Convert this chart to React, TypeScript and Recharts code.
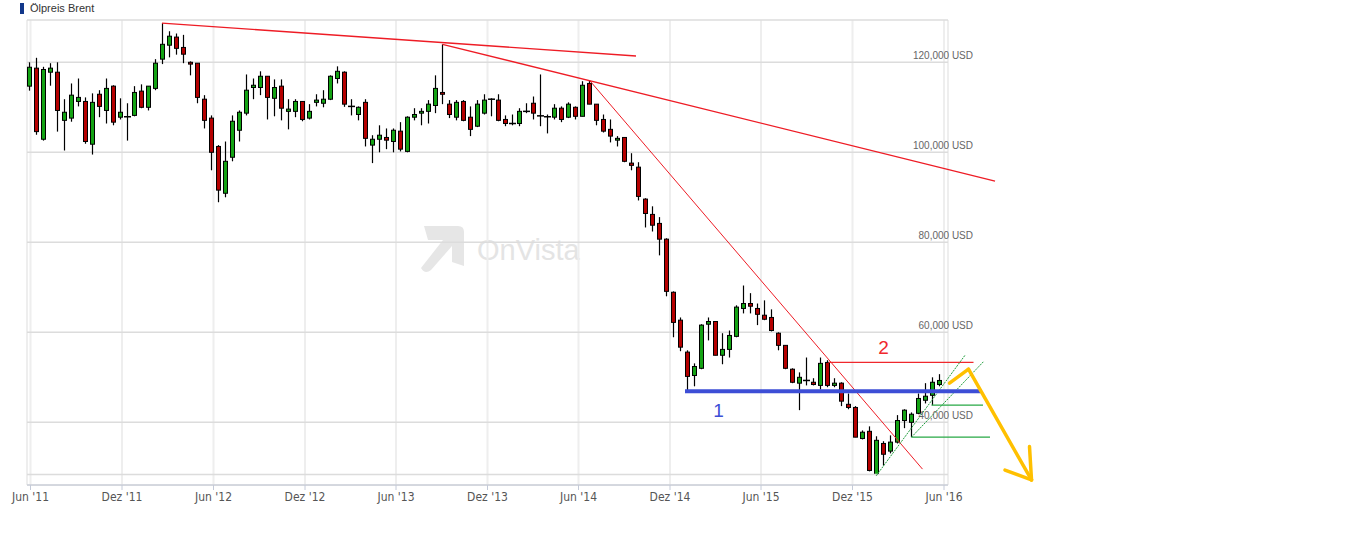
import React from 'react';
import {
  ComposedChart, Bar, XAxis, YAxis, CartesianGrid, ReferenceLine, ReferenceDot,
} from 'recharts';

// Brent, 2-week candles, values in thousand USD (chart shows them as "x,000 USD")
const OPEN = [
  114.7, 118.7, 102.9, 117.8, 117.8, 107.1, 107.6, 111.3, 111.3, 101.8,
  112.9, 109.3, 114.7, 107.8, 107.9, 108.2, 113.6, 110.0, 114.2, 120.7,
  123.8, 125.6, 123.3, 120.0, 119.8, 111.8, 107.6, 101.3, 90.9, 98.9,
  104.9, 108.7, 114.4, 114.4, 116.9, 112.0, 114.7, 109.1, 109.1, 111.3,
  107.6, 111.1, 110.9, 111.8, 116.4, 117.8, 110.2, 108.4, 111.1, 101.6,
  102.9, 103.3, 102.4, 104.7, 100.2, 107.8, 108.7, 109.1, 110.4, 113.3,
  110.7, 107.8, 111.3, 107.8, 105.8, 108.7, 111.8, 111.6, 107.3, 106.4,
  106.4, 109.1, 110.9, 108.1, 107.9, 107.8, 109.8, 107.8, 110.0, 108.0,
  115.3, 110.7, 107.3, 105.1, 102.7, 103.3, 97.6, 96.7, 89.6, 86.2,
  84.2, 80.7, 68.9, 62.7, 55.6, 50.4, 52.0, 61.8, 62.4, 54.9,
  56.2, 59.1, 65.3, 66.4, 65.3, 63.8, 63.3, 59.8, 57.1, 51.8,
  48.7, 49.3, 48.9, 48.2, 53.3, 48.2, 48.7, 44.0, 43.3, 36.4,
  38.0, 28.4, 35.3, 33.6, 35.6, 40.4, 40.0, 42.0, 44.9, 46.0, 48.4,
];
const HIGH = [
  120.0, 121.0, 119.0, 119.8, 120.0, 111.8, 115.3, 116.4, 112.2, 113.1,
  113.8, 116.4, 114.9, 112.0, 110.9, 114.7, 115.1, 114.7, 120.7, 128.7,
  126.9, 126.4, 126.1, 120.2, 119.8, 112.7, 108.2, 101.6, 102.4, 108.2,
  109.3, 117.3, 116.4, 118.0, 116.9, 116.2, 116.2, 111.8, 111.8, 111.3,
  110.7, 112.9, 113.8, 117.1, 119.1, 118.0, 111.8, 110.2, 111.8, 103.8,
  106.0, 105.3, 105.3, 106.7, 108.0, 109.8, 109.8, 111.6, 117.1, 124.0,
  111.6, 111.6, 111.6, 110.2, 111.6, 112.9, 112.0, 112.9, 108.2, 108.4,
  109.8, 110.9, 112.4, 117.3, 108.4, 110.7, 110.2, 111.1, 110.2, 115.8,
  116.0, 110.7, 108.4, 107.3, 103.6, 103.3, 99.8, 97.8, 89.8, 88.0,
  85.6, 80.9, 69.1, 63.3, 56.0, 53.1, 61.8, 63.3, 62.4, 59.8,
  60.4, 66.0, 70.4, 68.7, 66.4, 67.1, 65.1, 60.0, 57.1, 52.0,
  51.1, 54.4, 49.8, 54.4, 53.8, 49.8, 48.9, 46.4, 43.6, 38.2,
  39.1, 36.9, 35.8, 37.1, 41.6, 42.9, 42.2, 46.4, 48.7, 50.0, 50.7,
];
const LOW = [
  113.7, 103.9, 102.6, 114.8, 104.6, 100.4, 106.8, 110.2, 101.9, 99.5,
  107.8, 106.4, 106.0, 107.3, 102.6, 108.0, 109.8, 109.3, 113.8, 119.6,
  121.1, 121.7, 119.8, 117.1, 110.9, 105.3, 96.0, 88.9, 90.0, 98.0,
  102.4, 108.2, 111.8, 112.7, 107.3, 108.0, 107.1, 105.1, 107.8, 106.9,
  107.3, 110.2, 110.0, 111.6, 115.3, 110.1, 108.2, 107.1, 101.3, 97.6,
  100.0, 100.7, 100.0, 100.2, 100.0, 107.1, 106.0, 106.4, 108.7, 110.7,
  107.6, 107.1, 106.9, 103.6, 105.6, 108.4, 108.0, 106.9, 105.8, 106.0,
  105.8, 108.7, 107.3, 105.8, 104.2, 107.3, 106.7, 107.6, 107.3, 108.0,
  110.7, 106.0, 104.4, 102.2, 101.3, 97.8, 96.0, 89.3, 83.3, 82.4,
  77.1, 68.0, 58.9, 55.8, 47.1, 48.0, 51.8, 58.2, 54.9, 52.9,
  54.4, 58.9, 64.2, 64.2, 61.6, 62.7, 60.2, 56.0, 51.8, 48.7,
  42.7, 48.2, 48.2, 47.3, 47.8, 47.8, 43.6, 42.9, 36.7, 36.2,
  29.1, 28.2, 30.4, 33.1, 35.3, 38.7, 36.7, 41.8, 44.2, 43.8, 48.0,
];
const CLOSE = [
  118.9, 104.6, 118.4, 118.7, 109.3, 108.9, 112.7, 112.2, 102.4, 111.1,
  110.2, 114.2, 106.7, 108.9, 107.9, 113.3, 110.0, 114.7, 119.8, 124.0,
  125.8, 123.1, 121.8, 119.6, 112.2, 107.1, 100.0, 91.6, 98.0, 106.9,
  108.9, 113.8, 114.9, 116.9, 112.2, 114.4, 109.8, 109.6, 111.3, 107.3,
  109.1, 111.6, 111.8, 116.9, 118.0, 110.7, 110.2, 110.0, 103.1, 102.9,
  103.8, 102.7, 104.9, 100.7, 107.8, 108.4, 109.1, 110.7, 114.2, 112.9,
  108.4, 111.1, 107.1, 105.1, 110.7, 111.6, 111.8, 107.1, 106.4, 106.4,
  109.1, 109.1, 108.7, 108.1, 107.9, 109.8, 107.3, 110.7, 108.0, 114.9,
  110.7, 107.1, 104.7, 103.6, 103.1, 98.0, 97.1, 90.2, 86.4, 83.8,
  80.7, 69.1, 62.2, 56.7, 50.2, 52.4, 61.6, 62.4, 54.9, 56.2,
  59.3, 65.6, 66.4, 65.8, 64.0, 62.9, 60.4, 57.1, 52.0, 48.9,
  50.0, 49.3, 48.4, 53.1, 48.2, 48.7, 44.7, 43.3, 36.7, 37.8,
  29.3, 36.0, 32.9, 35.6, 40.4, 42.7, 41.8, 45.3, 45.8, 48.9, 49.3,
];

const DAY_MS = 86400000;
const BASE = Date.UTC(2011, 5, 1);
const FIRST_CANDLE = Date.UTC(2011, 4, 29);
const CANDLE_DAYS = 14;
const toDay = (t: number) => Math.round((t - BASE) / DAY_MS);

const X_TICK_DATES = [
  [2011, 5], [2011, 11], [2012, 5], [2012, 11], [2013, 5], [2013, 11],
  [2014, 5], [2014, 11], [2015, 5], [2015, 11], [2016, 5],
];
const X_TICK_LABELS = [
  "Jun '11", "Dez '11", "Jun '12", "Dez '12", "Jun '13", "Dez '13",
  "Jun '14", "Dez '14", "Jun '15", "Dez '15", "Jun '16",
];
const X_TICKS = X_TICK_DATES.map(([y, m]) => toDay(Date.UTC(y, m, 1)));
const Y_TICKS = [40, 60, 80, 100, 120];

// drawn annotations, in (day, value) coordinates
const RED_TRENDS = [
  [[263, 128.7], [1211, 121.4]],
  [[824, 124.0], [1929, 93.6]],
  [[1118, 116.0], [1784, 29.6]],
];
const RESISTANCE_2 = [[1596, 53.3], [1886, 53.3]];
const SUPPORT_1 = [[1309, 46.9], [1903, 46.9]];
const GREEN_TRENDS = [
  [[1692, 28.2], [1869, 54.9]],
  [[1762, 36.7], [1907, 53.6]],
];
const GREEN_LEVELS = [
  [[1762, 36.7], [1919, 36.7]],
  [[1802, 43.8], [1905, 43.8]],
];
const ARROW = [
  [[1838, 48.7], [1876, 51.8]],
  [[1876, 51.8], [2002, 27.2]],
  [[1949, 29.4], [2002, 27.2]],
  [[1998, 34.6], [2002, 27.2]],
];
const LABELS = [
  { day: 1706, value: 56.7, text: '2', color: '#f0282d' },
  { day: 1376, value: 42.7, text: '1', color: '#3d4ed6' },
];

const data = OPEN.map((o, i) => ({
  day: toDay(FIRST_CANDLE + i * CANDLE_DAYS * DAY_MS),
  open: o,
  high: HIGH[i],
  low: LOW[i],
  close: CLOSE[i],
}));

const Candle = (props: any) => {
  const { x, y, width, height, payload } = props;
  const { open, close, high, low } = payload;
  const top = Math.min(y, y + height);
  const h = Math.abs(height);
  const k = high === low ? 0 : h / (high - low);
  const py = (v: number) => top + (high - v) * k;
  const cx = Math.round(x + width / 2);
  const bodyTop = py(Math.max(open, close));
  const bodyBot = py(Math.min(open, close));
  const fill = close > open ? '#14a314' : '#b50000';
  return (
    <g>
      <line x1={cx + 0.5} x2={cx + 0.5} y1={top} y2={top + h} stroke="#000" strokeWidth={1.2} />
      {open === close ? (
        <line x1={cx - 3} x2={cx + 4} y1={bodyTop} y2={bodyTop} stroke="#000" strokeWidth={1.5} />
      ) : (
        <rect x={cx - 1.5} y={bodyTop} width={4} height={Math.max(bodyBot - bodyTop, 1)}
          fill={fill} stroke="#000" strokeWidth={1} />
      )}
    </g>
  );
};

const XTick = ({ x, index }: any) => (
  <text x={x} y={501} textAnchor="middle" fontSize={12} fill="#555"
    fontFamily="'Liberation Sans Narrow', 'DejaVu Sans Condensed', Arial, sans-serif">
    {X_TICK_LABELS[index] ?? ''}
  </text>
);

const YTick = ({ y, payload }: any) => (
  <text x={973} y={y - 3} textAnchor="end" fontSize={10} fill="#666"
    fontFamily="'Liberation Sans', Arial, sans-serif">
    {`${(payload.value * 1000).toLocaleString('en-US')} USD`}
  </text>
);

const seg = (s: number[][]) => [{ x: s[0][0], y: s[0][1] }, { x: s[1][0], y: s[1][1] }];

const Watermark = () => (
  <svg width={1360} height={551} style={{ position: 'absolute', left: 0, top: 0 }}>
    <path d="M424 226 H458 Q464 226 464 232 V266 L452 262 V246 L431 270 Q425 275 421 268 L443 240 H428 Z"
      fill="#e6e6e6" />
    <text x={477} y={260} fontSize={29} fill="#e4e4e4"
      fontFamily="'Liberation Sans', Arial, sans-serif">OnVista</text>
  </svg>
);

export default function App() {
  return (
    <div style={{ position: 'absolute', left: 0, top: 0, width: 1360, height: 551, background: '#fff' }}>
      <Watermark />
      <div style={{ position: 'absolute', left: 20, top: 2, display: 'flex', alignItems: 'center',
        fontFamily: "'Liberation Sans', Arial, sans-serif", fontSize: 11, color: '#333' }}>
        <span style={{ display: 'inline-block', width: 4, height: 11, background: '#12378a', marginRight: 6 }} />
        Ölpreis Brent
      </div>
      <div style={{ position: 'absolute', left: 0, top: 0 }}>
        <ComposedChart width={1360} height={551} data={data}
          margin={{ top: 20, left: 27, right: 352, bottom: 36 }}>
          <CartesianGrid horizontal={false} stroke="#eeeeee" strokeWidth={2} />
          <CartesianGrid vertical={false} stroke="#dcdcdc" strokeWidth={1.5} />
          <XAxis dataKey="day" type="number" domain={[-7, 1835]} allowDataOverflow
            ticks={X_TICKS} tick={<XTick />} interval={0} height={30}
            axisLine={{ stroke: '#c4cad8' }} tickLine={{ stroke: '#c4cad8' }} tickSize={5} />
          <YAxis orientation="right" type="number" domain={[26.07, 129.4]} allowDataOverflow
            ticks={Y_TICKS} tick={<YTick />} axisLine={false} tickLine={false} width={60} />
          <ReferenceLine y={28.4} stroke="#dcdcdc" strokeWidth={1.5} />
          <Bar dataKey={(d: any) => [d.low, d.high]} barSize={6} shape={<Candle />}
            isAnimationActive={false} />
          {RED_TRENDS.map((s, i) => (
            <ReferenceLine key={`r${i}`} segment={seg(s)} stroke="#ee1c25"
              strokeWidth={i === 2 ? 1 : 1.3} ifOverflow="visible" />
          ))}
          <ReferenceLine segment={seg(RESISTANCE_2)} stroke="#f0282d" strokeWidth={1.2} ifOverflow="visible" />
          {GREEN_TRENDS.map((s, i) => (
            <ReferenceLine key={`g${i}`} segment={seg(s)} stroke="#1f9e3c" strokeWidth={1}
              strokeDasharray="2 1" ifOverflow="visible" />
          ))}
          {GREEN_LEVELS.map((s, i) => (
            <ReferenceLine key={`gl${i}`} segment={seg(s)} stroke="#27a844" strokeWidth={1.2} ifOverflow="visible" />
          ))}
          <ReferenceLine segment={seg(SUPPORT_1)} stroke="#3d4ed6" strokeWidth={4} ifOverflow="visible" />
          {ARROW.map((s, i) => (
            <ReferenceLine key={`a${i}`} segment={seg(s)} stroke="#ffc000" strokeWidth={3.5}
              strokeLinecap="round" ifOverflow="visible" />
          ))}
          {LABELS.map((l) => (
            <ReferenceDot key={l.text} x={l.day} y={l.value} ifOverflow="visible"
              shape={(p: any) => (
                <text x={p.cx} y={p.cy} textAnchor="middle" dominantBaseline="central"
                  fontSize={19} fill={l.color} fontFamily="'Liberation Sans', Arial, sans-serif">
                  {l.text}
                </text>
              )} />
          ))}
        </ComposedChart>
      </div>
    </div>
  );
}
